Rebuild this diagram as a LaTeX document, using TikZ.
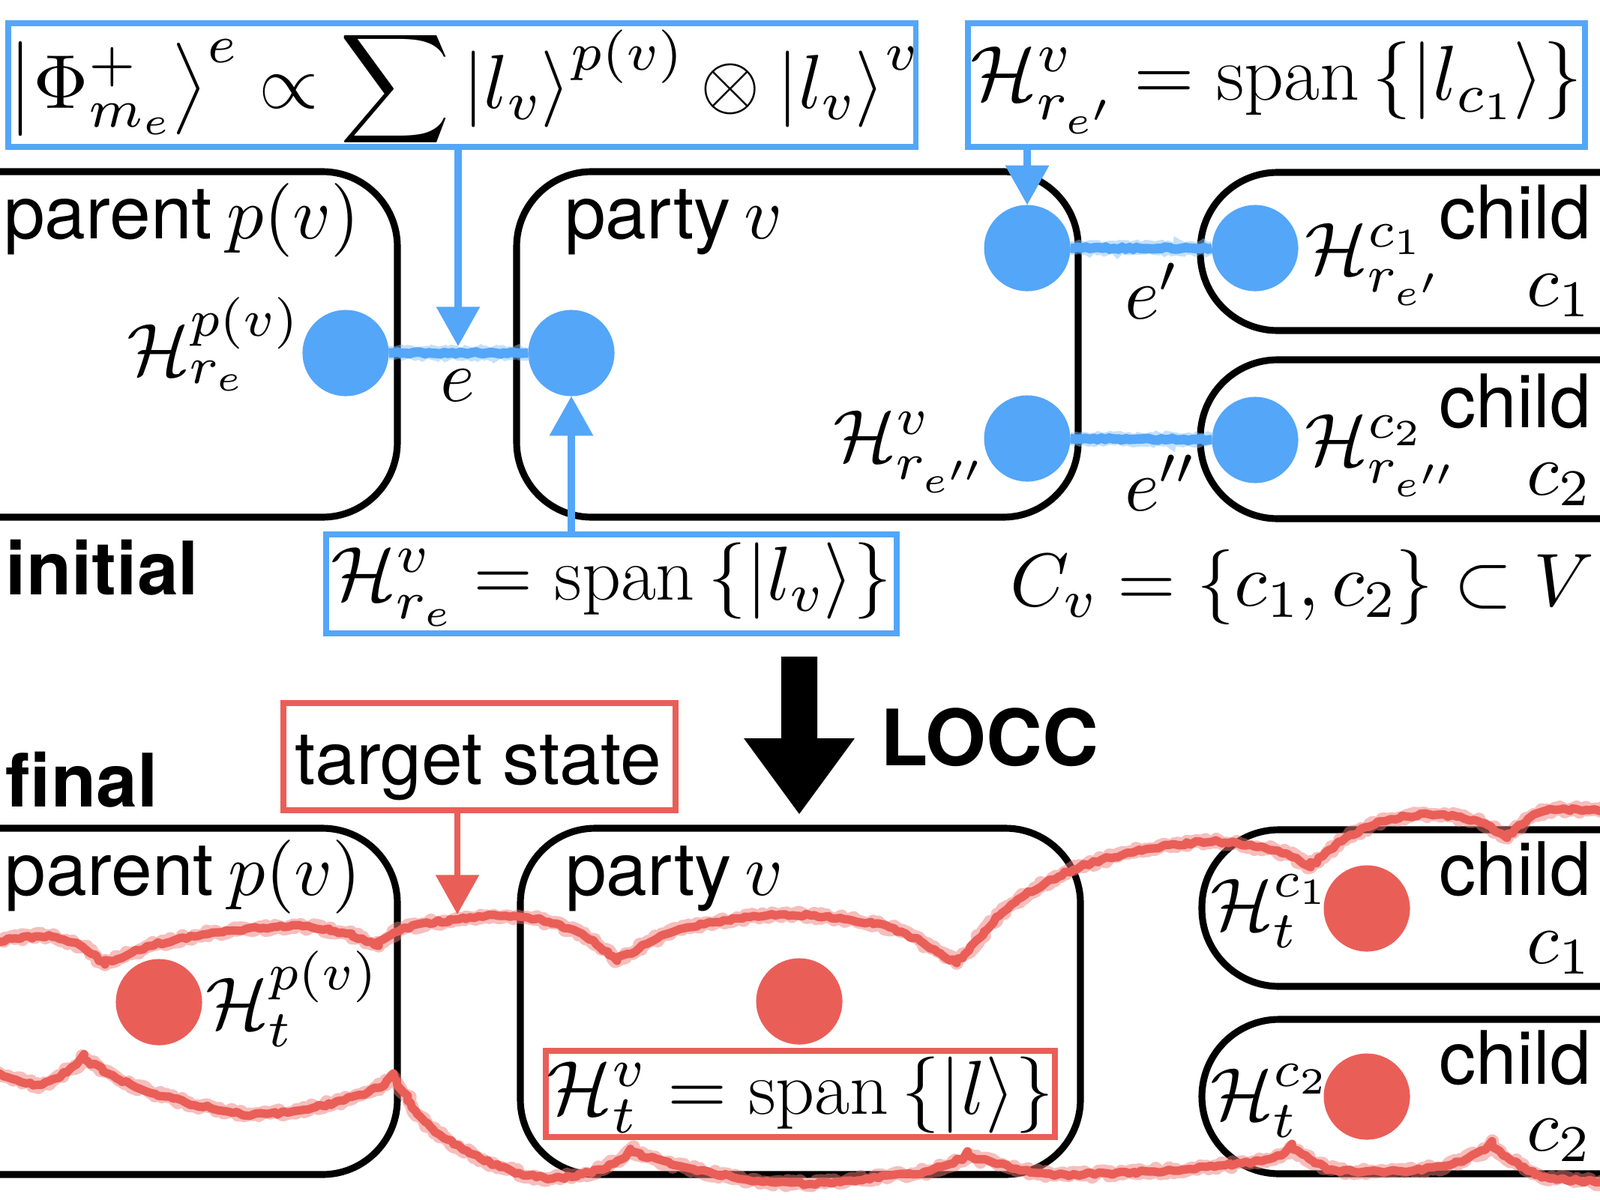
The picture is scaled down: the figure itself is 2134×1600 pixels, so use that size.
\RequirePackage{fix-cm}
\documentclass[tikz,border=0pt]{standalone}
\usepackage{amsmath}
\usepackage{fontspec}
\setsansfont{TeX Gyre Heros}
\DeclareFontShape{OML}{cmm}{m}{it}{<-6> cmmi5 <6-8> cmmi7 <8-13> cmmi10 <13-17> cmmi5 <17-24> cmmi7 <24-> cmmi10}{}
\DeclareFontShape{OT1}{cmr}{m}{n}{<-6> cmr5 <6-8> cmr7 <8-13> cmr10 <13-17> cmr5 <17-24> cmr7 <24-> cmr10}{}
\DeclareFontShape{OMS}{cmsy}{m}{n}{<-6> cmsy5 <6-8> cmsy7 <8-13> cmsy10 <13-17> cmsy5 <17-24> cmsy7 <24-> cmsy10}{}
\DeclareFontShape{OMX}{cmex}{m}{n}{<-> cmex10}{}
\usetikzlibrary{arrows.meta,decorations.pathmorphing}
\definecolor{qblue}{RGB}{84,166,248}
\definecolor{qred}{RGB}{234,94,88}
\newcommand{\redblobpath}{%
  plot[smooth] coordinates {(-40,1264) (20,1252) (70,1250) (110,1263) (140,1287)}
  -- plot[smooth] coordinates {(140,1287) (200,1262) (290,1244) (386,1236) (456,1244) (505,1262)}
  -- plot[smooth] coordinates {(505,1262) (535,1240) (605,1227) (675,1222) (732,1230) (781,1250) (823,1282)}
  -- plot[smooth] coordinates {(823,1282) (886,1247) (956,1230) (1047,1220) (1132,1227) (1202,1243) (1276,1285)}
  -- plot[smooth] coordinates {(1276,1285) (1349,1207) (1432,1160) (1528,1133) (1617,1123) (1676,1130) (1718,1140) (1748,1157)}
  -- plot[smooth] coordinates {(1748,1157) (1796,1117) (1855,1093) (1915,1087) (1974,1097) (2010,1118)}
  -- plot[smooth] coordinates {(2010,1118) (2046,1087) (2081,1080) (2134,1082) (2200,1085)}
  -- (2250,1300) --
  plot[smooth] coordinates {(2200,1580) (2134,1577) (2053,1568) (1990,1530)}
  -- plot[smooth] coordinates {(1990,1530) (1930,1555) (1850,1563) (1776,1560) (1724,1533)}
  -- plot[smooth] coordinates {(1724,1533) (1672,1550) (1534,1563) (1396,1566) (1292,1542)}
  -- plot[smooth] coordinates {(1292,1542) (1240,1562) (1188,1568) (1100,1578) (1018,1577) (912,1557) (842,1537)}
  -- plot[smooth] coordinates {(842,1537) (800,1560) (737,1572) (667,1557) (596,1520) (561,1490) (526,1438)}
  -- plot[smooth] coordinates {(526,1438) (491,1457) (421,1477) (337,1487) (246,1470) (175,1447) (112,1413)}
  -- plot[smooth] coordinates {(112,1413) (56,1447) (0,1433) (-40,1430)}
  -- cycle}
\begin{document}
\begin{tikzpicture}[x=0.01cm,y=-0.01cm,
  txt/.style={inner sep=0pt, outer sep=0pt, font=\fontsize{28}{34}\selectfont},
  mtxt/.style={inner sep=0pt, outer sep=0pt, font=\fontsize{29}{35}\selectfont},
  sftxt/.style={inner sep=0pt, outer sep=0pt, font=\fontsize{28}{34}\selectfont\sffamily},
  bftxt/.style={inner sep=0pt, outer sep=0pt, font=\fontsize{28}{34}\selectfont\sffamily\bfseries},
  partybox/.style={draw=black, line width=2.6pt, rounded corners=1cm},
  childbox/.style={draw=black, line width=2.6pt, rounded corners=1.03cm},
  bluebox/.style={draw=qblue, line width=2.2pt, inner sep=0pt},
  redbox/.style={draw=qred, line width=2.2pt, inner sep=0pt},
  bluedot/.style={circle, fill=qblue, minimum size=1.15cm, inner sep=0pt, outer sep=0pt},
  reddot/.style={circle, fill=qred, minimum size=1.15cm, inner sep=0pt, outer sep=0pt},
  bluearrow/.style={draw=qblue, line width=2.6pt, -{Triangle[width=16pt,length=15pt]}},
  redarrow/.style={draw=qred, line width=2.4pt, -{Triangle[width=16pt,length=15pt]}},
  bluechalk/.style={draw=qblue, line width=3.6pt, decorate, decoration={random steps, segment length=1.5pt, amplitude=0.4pt}},
  bluechalkwide/.style={draw=qblue!70, line width=5pt, opacity=0.5, decorate, decoration={random steps, segment length=1.2pt, amplitude=0.6pt}},
  redchalk/.style={draw=qred, line width=3.2pt, line join=round, decorate, decoration={random steps, segment length=1.6pt, amplitude=0.6pt}},
  redchalkwide/.style={draw=qred!80, line width=5pt, opacity=0.5, line join=round, decorate, decoration={random steps, segment length=1.2pt, amplitude=1.1pt}}
]
\useasboundingbox (0,0) rectangle (2134,1600);
\clip (0,0) rectangle (2134,1600);

% ---------------- initial ----------------
\draw[partybox] (-200,229) rectangle (530,690);
\draw[partybox] (689,229) rectangle (1438,690);
\draw[childbox] (1601,230) rectangle (2300,441);
\draw[childbox] (1601,480) rectangle (2300,692);

\node[sftxt, anchor=base west] (parentlbl) at (5,318) {parent\hspace{0.2em}$p(v)$};
\node[sftxt, anchor=base west] (partylbl) at (753,318) {party\hspace{0.18em}$v$};
\node[sftxt, anchor=base east] (childa) at (2122,318) {child};
\node[txt, anchor=base east] (ca) at (2120,408) {$c_1$};
\node[sftxt, anchor=base east] (childb) at (2122,570) {child};
\node[txt, anchor=base east] (cb) at (2120,660) {$c_2$};

\node[bluedot] (pdot) at (461,471) {};
\node[bluedot] (vdotL) at (762,471) {};
\node[bluedot] (vdotTR) at (1370,331) {};
\node[bluedot] (vdotBR) at (1370,585) {};
\node[bluedot] (c1dot) at (1674,331) {};
\node[bluedot] (c2dot) at (1674,587) {};

\draw[bluechalkwide] (pdot) -- (vdotL);
\draw[bluechalk] (pdot) -- (vdotL);
\draw[bluechalkwide] (vdotTR) -- (c1dot);
\draw[bluechalk] (vdotTR) -- (c1dot);
\draw[bluechalkwide] (vdotBR) -- (c2dot);
\draw[bluechalk] (vdotBR) -- (c2dot);

\node[txt, anchor=base east] (hp) at (399,500) {$\mathcal{H}^{p(v)}_{r_e}$};
\node[txt, anchor=base east] (hv2) at (1313,615) {$\mathcal{H}^{v}_{r_{e''}}$};
\node[txt, anchor=base west] (hc1) at (1740,365) {$\mathcal{H}^{c_1}_{r_{e'}}$};
\node[txt, anchor=base west] (hc2) at (1740,620) {$\mathcal{H}^{c_2}_{r_{e''}}$};
\node[txt, anchor=base] (elbl) at (610,535) {$e$};
\node[txt, anchor=base west] (e1lbl) at (1500,425) {$e'$};
\node[txt, anchor=base west] (e2lbl) at (1500,681) {$e''$};

\node[bluebox, minimum width=12.1cm, minimum height=1.65cm] (phibox) at (616,113.5) {};
\node[mtxt] (phitxt) at (618,119)
  {$\left|\Phi^+_{m_e}\right\rangle^{e} \propto \displaystyle\sum \left|l_v\right\rangle^{p(v)} \otimes \left|l_v\right\rangle^{v}$};
\node[bluebox, minimum width=8.23cm, minimum height=1.65cm] (rebox) at (1702.5,113.5) {};
\node[mtxt, font=\fontsize{29.5}{35}\selectfont] (retxt) at (1702.5,117)
  {$\mathcal{H}^{v}_{r_{e'}} = \mathrm{span}\left\{\left|l_{c_1}\right\rangle\right\}$};
\node[bluebox, minimum width=7.61cm, minimum height=1.32cm] (rebbox) at (815.5,779) {};
\node[mtxt] (rebtxt) at (815.5,780)
  {$\mathcal{H}^{v}_{r_{e}} = \mathrm{span}\left\{\left|l_{v}\right\rangle\right\}$};

\coordinate (etip) at (611,462);
\draw[bluearrow] (etip |- phibox.south) -- (etip);
\draw[bluearrow] (vdotTR |- rebox.south) -- (vdotTR);
\draw[bluearrow] (vdotL |- rebbox.north) -- (vdotL);

\node[bftxt, anchor=base west] (initlbl) at (8,793) {initial};
\node[mtxt, font=\fontsize{28.5}{34}\selectfont, anchor=base west] (cvlbl) at (1347,808) {$C_v = \left\{c_1, c_2\right\} \subset V$};

% ---------------- LOCC ----------------
\fill[black] (1042,876) -- (1090,876) -- (1090,985) -- (1140,985) -- (1066,1086) -- (992,985) -- (1042,985) -- cycle;
\node[bftxt, font=\fontsize{29.5}{35}\selectfont\sffamily\bfseries, anchor=base west] (locc) at (1174,1021) {LOCC};

% ---------------- final ----------------
\node[bftxt, anchor=base west] (finallbl) at (8,1076) {final};
\node[redbox, minimum width=5.23cm, minimum height=1.43cm] (target) at (639.5,1009.5) {};
\node[sftxt, anchor=base west] (targettxt) at (393,1046) {target state};

\draw[partybox] (-200,1105) rectangle (530,1567);
\draw[partybox] (694,1105) rectangle (1441,1567);
\draw[childbox] (1603,1107) rectangle (2300,1316);
\draw[childbox] (1603,1360) rectangle (2300,1566);

\node[sftxt, anchor=base west] (parentlblF) at (7,1194) {parent\hspace{0.2em}$p(v)$};
\node[sftxt, anchor=base west] (partylblF) at (754,1194) {party\hspace{0.18em}$v$};
\node[sftxt, anchor=base east] (childaF) at (2122,1194) {child};
\node[txt, anchor=base east] (caF) at (2120,1285) {$c_1$};
\node[sftxt, anchor=base east] (childbF) at (2122,1446) {child};
\node[txt, anchor=base east] (cbF) at (2120,1535) {$c_2$};

\node[reddot] (pdotF) at (212,1337) {};
\node[reddot] (vdotF) at (1066,1336) {};
\node[reddot] (c1dotF) at (1823,1212) {};
\node[reddot] (c2dotF) at (1823,1463) {};

\node[txt, anchor=base west] (htp) at (274,1372) {$\mathcal{H}^{p(v)}_{t}$};
\node[txt, anchor=base west] (htc1) at (1614,1240) {$\mathcal{H}^{c_1}_{t}$};
\node[txt, anchor=base west] (htc2) at (1614,1493) {$\mathcal{H}^{c_2}_{t}$};
\node[redbox, minimum width=6.79cm, minimum height=1.15cm] (htv) at (1067.5,1459.5) {};
\node[mtxt] (htvtxt) at (1067.5,1461)
  {$\mathcal{H}^{v}_{t} = \mathrm{span}\left\{\left|l\right\rangle\right\}$};

\draw[redchalkwide] \redblobpath;
\draw[redchalk] \redblobpath;

\coordinate (ttip) at (610,1220);
\draw[redarrow] (ttip |- target.south) -- (ttip);
\end{tikzpicture}
\end{document}
